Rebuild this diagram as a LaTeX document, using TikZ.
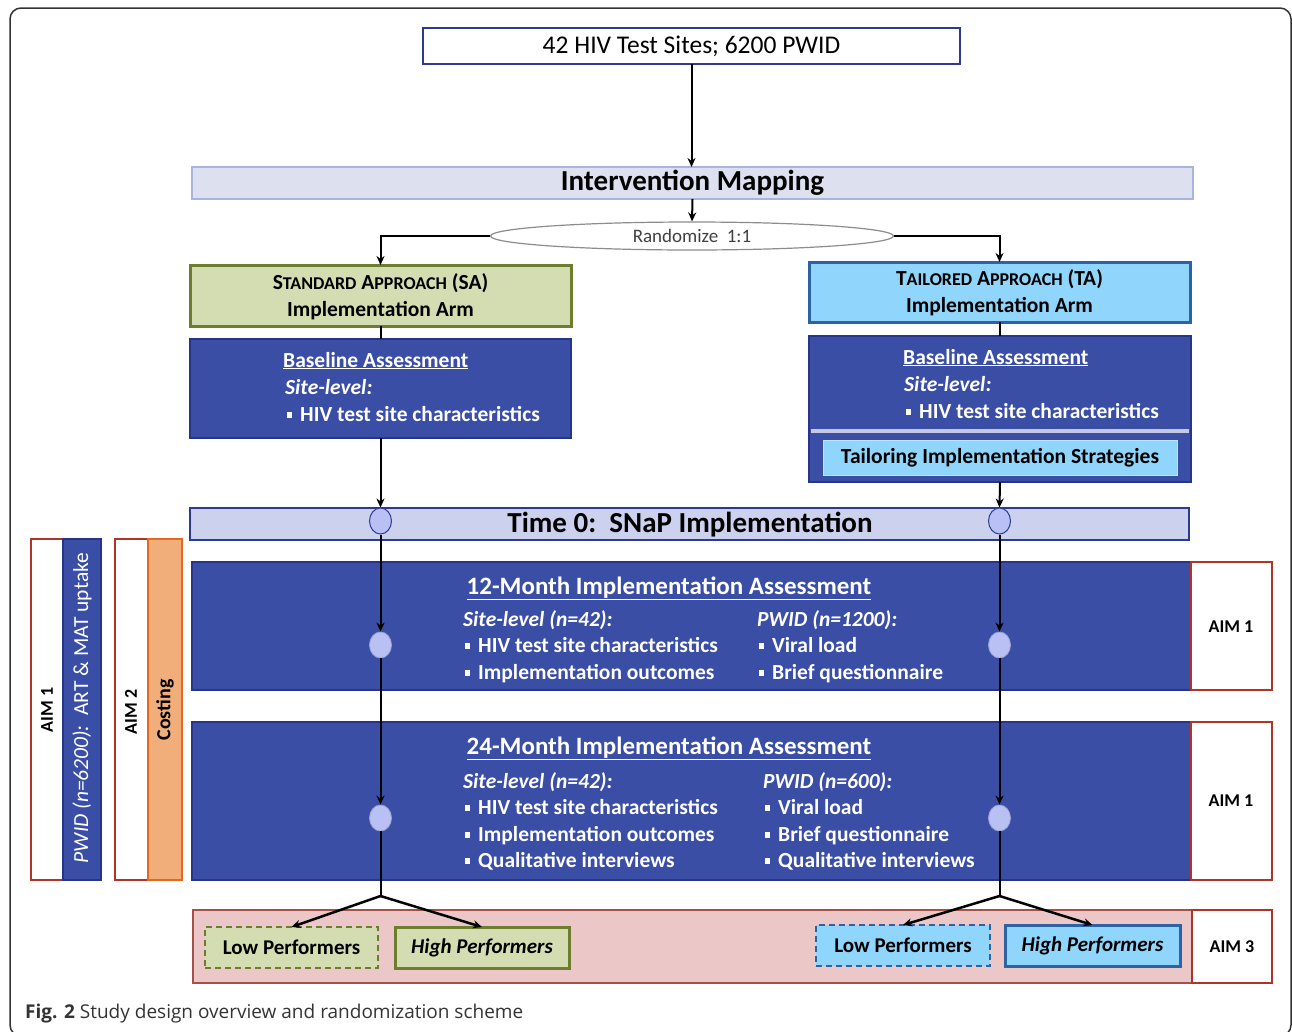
\documentclass[tikz,border=0pt]{standalone}
\usepackage{fontspec}
\setmainfont{Carlito}
\newfontfamily\capfont{Open Sans}
\usetikzlibrary{arrows.meta,shapes.geometric,fit}

\definecolor{bluefill}{RGB}{58,78,166}
\definecolor{bluebd}{RGB}{38,52,138}
\definecolor{lav}{RGB}{221,224,239}
\definecolor{lavbd}{RGB}{170,178,222}
\definecolor{tzero}{RGB}{204,209,238}
\definecolor{tzerobd}{RGB}{44,58,145}
\definecolor{olive}{RGB}{212,221,178}
\definecolor{olivebd}{RGB}{108,126,46}
\definecolor{sky}{RGB}{143,213,252}
\definecolor{skybd}{RGB}{46,98,166}
\definecolor{aimred}{RGB}{176,52,40}
\definecolor{orng}{RGB}{242,174,122}
\definecolor{orngbd}{RGB}{226,105,30}
\definecolor{pinkf}{RGB}{235,199,200}
\definecolor{pinkbd}{RGB}{166,80,74}
\definecolor{dotf}{RGB}{184,192,244}
\definecolor{dotbd}{RGB}{80,96,190}
\definecolor{framec}{RGB}{50,50,50}
\definecolor{sepc}{RGB}{196,200,228}

\newcommand\fs[2]{\fontsize{#1}{#2}\selectfont}
\newcommand\bul{\rule[3pt]{5pt}{6pt}\hspace{8pt}}
\newcommand\smc{\fs{18}{18}}

\tikzset{
  box/.style={inner sep=0pt, outer sep=0pt},
  bluebox/.style={box, draw=bluebd, line width=2pt, fill=bluefill},
  aimbox/.style={box, draw=aimred, line width=2pt, fill=white},
  aimtxt/.style={inner sep=0pt, font=\bfseries\fs{18}{20}},
  wt/.style={text=white, font=\bfseries\fs{21.5}{26}, inner sep=0pt, anchor=base west},
  wti/.style={wt, font=\bfseries\itshape\fs{21.5}{26}},
  conn/.style={draw=black, line width=2pt},
  arr/.style={conn, -{Stealth[length=9pt,width=8pt]}},
  dotn/.style={ellipse, draw=dotf!85!black, line width=0.8pt, fill=dotf, minimum width=22pt, minimum height=26pt, inner sep=0pt},
  rot/.style={rotate=90, inner sep=0pt},
}

\begin{document}
\begin{tikzpicture}[x=1pt,y=-1pt]
\useasboundingbox (0,0) rectangle (1292,1031);
\draw[draw=framec, line width=1.5pt, rounded corners=11pt] (10,8) rectangle (1291,1036);

% top
\node[box, draw=tzerobd, line width=2pt, fill=white, fit={(423,28) (960,64)}] (sites) {};
\node[inner sep=0pt, font=\fs{25.5}{28}] (sitesT) at (sites.center) {42 HIV Test Sites; 6200 PWID};
\node[box, draw=lavbd, line width=1.5pt, fill=lav, fit={(192,167) (1193,199)}] (im) {};
\node[inner sep=0pt, font=\bfseries\fs{29}{32}] (imT) at (im.center) {Intervention Mapping};
\node[ellipse, draw=black!45, line width=1.2pt, fill=white, minimum width=403pt, minimum height=28pt, inner sep=0pt, font=\fs{19}{20}, text=black!75] (rand) at (692,236) {Randomize\ \ 1:1};

% arms
\node[box, draw=olivebd, line width=3pt, fill=olive, fit={(190,265) (571,326)}] (sa) {};
\node[inner sep=0pt, font=\bfseries\fs{21.5}{27}, align=center] (saT) at (380.5,297) {S{\smc TANDARD} A{\smc PPROACH} (SA)\\Implementation Arm};
\node[box, draw=skybd, line width=3pt, fill=sky, fit={(809,262) (1190,322)}] (ta) {};
\node[inner sep=0pt, font=\bfseries\fs{21.5}{27}, align=center] (taT) at (999.5,293) {T{\smc AILORED} A{\smc PPROACH} (TA)\\Implementation Arm};

% baseline boxes
\node[bluebox, fit={(190,339) (571,438)}] (sab) {};
\node[bluebox, fit={(809,336) (1191,482)}] (tab) {};
\draw[line width=3.5pt, draw=sepc] (811,431) -- (1189,431);
\node[box, draw=sky!60!white, line width=1pt, fill=sky, fit={(823,440) (1177,475)}] (tis) {};
\node[inner sep=0pt, font=\bfseries\fs{21.5}{26}] (tisT) at (tis.center) {Tailoring Implementation Strategies};

\node[wt] (sab1) at (283,367) {\underline{Baseline Assessment}};
\node[wti] (sab2) at (285,394) {Site-level:};
\node[wt] (sab3) at (287,421) {\bul HIV test site characteristics};
\node[wt] (tab1) at (903,364) {\underline{Baseline Assessment}};
\node[wti] (tab2) at (904,391) {Site-level:};
\node[wt] (tab3) at (906,418) {\bul HIV test site characteristics};

% time 0
\node[box, draw=tzerobd, line width=2.5pt, fill=tzero, fit={(190,508) (1189,540)}] (t0) {};
\node[inner sep=0pt, font=\bfseries\fs{29}{32}] (t0T) at (690,525) {Time 0:\ \ SNaP Implementation};

% 12 month
\node[bluebox, fit={(192,562) (1191,690)}] (m12) {};
\node[aimbox, fit={(1191,562) (1272,690)}] (aimA) {};
\node[aimtxt] (aimAT) at (1231,627) {AIM 1};
\node[wt, font=\bfseries\fs{25}{28}, anchor=base] (m12t) at (669,594) {\underline{12-Month Implementation Assessment}};
\node[wti] (m12a) at (463,626) {Site-level (n=42):};
\node[wt] (m12b) at (465,652) {\bul HIV test site characteristics};
\node[wt] (m12c) at (465,679) {\bul Implementation outcomes};
\node[wti] (m12d) at (757,626) {PWID (n=1200):};
\node[wt] (m12e) at (759,652) {\bul Viral load};
\node[wt] (m12f) at (759,679) {\bul Brief questionnaire};

% 24 month
\node[bluebox, fit={(192,722) (1191,880)}] (m24) {};
\node[aimbox, fit={(1191,722) (1272,880)}] (aimB) {};
\node[aimtxt] (aimBT) at (1231,801) {AIM 1};
\node[wt, font=\bfseries\fs{25}{28}, anchor=base] (m24t) at (669,754) {\underline{24-Month Implementation Assessment}};
\node[wti] (m24a) at (463,788) {Site-level (n=42):};
\node[wt] (m24b) at (465,814) {\bul HIV test site characteristics};
\node[wt] (m24c) at (465,841) {\bul Implementation outcomes};
\node[wt] (m24d) at (465,867) {\bul Qualitative interviews};
\node[wti] (m24e) at (763,788) {PWID (n=600):};
\node[wt] (m24f) at (765,814) {\bul Viral load};
\node[wt] (m24g) at (765,841) {\bul Brief questionnaire};
\node[wt] (m24h) at (765,867) {\bul Qualitative interviews};

% left side
\node[box, draw=aimred, line width=2pt, fill=white, fit={(31,539) (63,880)}] (la1) {};
\node[rot, font=\bfseries\fs{18}{20}] (la1t) at (47,710) {AIM 1};
\node[box, draw=bluebd, line width=2pt, fill=bluefill, fit={(63,539) (101,880)}] (lpw) {};
\node[rot, text=white, font=\fs{21.5}{24}] (lpwt) at (82,708) {\textit{PWID (n=6200):}\ \ ART \& MAT uptake};
\node[box, draw=aimred, line width=2pt, fill=white, fit={(115,539) (148,880)}] (la2) {};
\node[rot, font=\bfseries\fs{18}{20}] (la2t) at (131,712) {AIM 2};
\node[box, draw=orngbd, line width=2.5pt, fill=orng, fit={(148,539) (182,880)}] (cost) {};
\node[rot, font=\bfseries\fs{20}{22}] (costt) at (165,710) {Costing};

% bottom
\node[box, draw=pinkbd, line width=2pt, fill=pinkf, fit={(193,910) (1192,983)}] (band) {};
\node[aimbox, fit={(1192,910) (1272,983)}] (aimC) {};
\node[aimtxt] (aimCT) at (1232,947) {AIM 3};
\node[box, draw=olivebd, dash pattern=on 6pt off 4pt, line width=2pt, fill=olive, fit={(205,927) (378,968)}] (lsa) {};
\node[inner sep=0pt, font=\bfseries\fs{21}{24}] (lsaT) at (lsa.center) {Low Performers};
\node[box, draw=olivebd, line width=3pt, fill=olive, fit={(395,927) (569,968)}] (hsa) {};
\node[inner sep=0pt, font=\bfseries\itshape\fs{21}{24}] (hsaT) at (hsa.center) {High Performers};
\node[box, draw=skybd, dash pattern=on 6pt off 4pt, line width=2pt, fill=sky, fit={(816,925) (990,966)}] (lta) {};
\node[inner sep=0pt, font=\bfseries\fs{21}{24}] (ltaT) at (lta.center) {Low Performers};
\node[box, draw=skybd, line width=3pt, fill=sky, fit={(1005,925) (1180,966)}] (hta) {};
\node[inner sep=0pt, font=\bfseries\itshape\fs{21}{24}] (htaT) at (hta.center) {High Performers};

% dots
\node[dotn, draw=tzerobd, line width=1pt] (d1) at (380.5,521) {};
\node[dotn, draw=tzerobd, line width=1pt] (d2) at (999.5,521) {};
\node[dotn] (d3) at (380.5,645) {};
\node[dotn] (d4) at (999.5,645) {};
\node[dotn] (d5) at (380.5,818) {};
\node[dotn] (d6) at (999.5,818) {};

% connectors
\draw[arr] (sites.south) -- (sites.south |- im.north);
\draw[arr] (im.south) -- (rand.north);
\draw[arr] (rand.west) -| (sa.north);
\draw[arr] (rand.east) -| (ta.north);
\draw[conn] (sa.south) -- (sab.north);
\draw[conn] (ta.south) -- (ta.south |- tab.north);
\draw[arr] (sab.south) -- (d1.north);
\draw[arr] (tab.south) -- (d2.north);
\draw[arr] (d1.south) -- (d3.north);
\draw[arr] (d2.south) -- (d4.north);
\draw[arr] (d3.south) -- (d5.north);
\draw[arr] (d4.south) -- (d6.north);
\coordinate (b1) at (380.5,896);
\coordinate (b2) at (999.5,896);
\draw[conn] (d5.south) -- (b1);
\draw[conn] (d6.south) -- (b2);
\draw[arr, line width=2.5pt] (b1) -- (lsa.north);
\draw[arr, line width=2.5pt] (b1) -- (hsa.north);
\draw[arr, line width=2.5pt] (b2) -- (lta.north);
\draw[arr, line width=2.5pt] (b2) -- (hta.north);

% caption
\node[anchor=base west, inner sep=0pt, text=black!80, font=\capfont\fs{19}{21}] (cap) at (25,1018) {\textbf{Fig. 2} Study design overview and randomization scheme};
\end{tikzpicture}
\end{document}
